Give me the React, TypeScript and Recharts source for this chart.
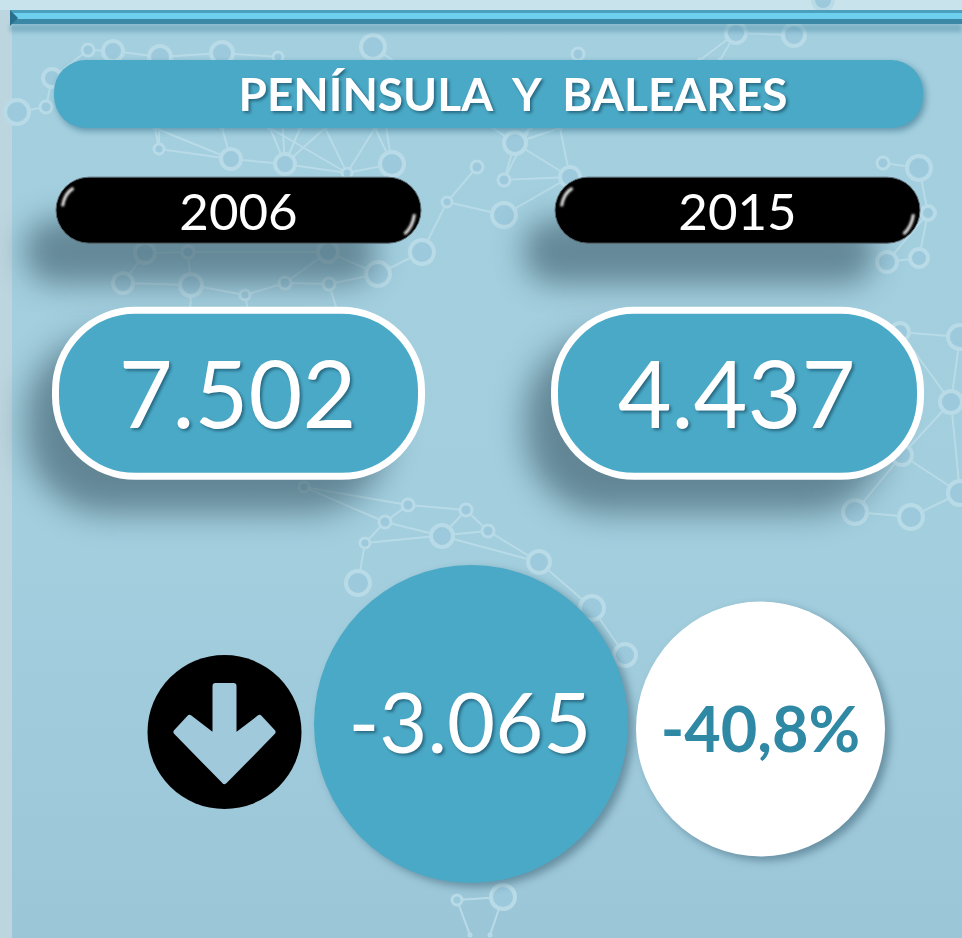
import { ScatterChart, Scatter, XAxis, YAxis } from 'recharts'

const title = 'PENÍNSULA  Y  BALEARES'
const years = ['2006', '2015']
const totals = [7502, 4437]
const change = -3065
const changePct = -40.8

const rows = ['title', 'year', 'total', 'change']
const changeSlots = ['arrow', 'abs', 'pct']

// decorative network behind the figures: [x, y, radius]
const nodes = [
  [88, 50, 6], [113, 51, 10], [160, 57, 11], [222, 53, 11], [278, 57, 5], [373, 47, 12], [52, 78, 9], [17, 112, 12], [46, 107, 6],
  [159, 149, 5], [231, 159, 10], [285, 164, 10], [392, 164, 12], [347, 173, 5], [477, 167, 6], [447, 202, 5], [422, 252, 12],
  [378, 274, 12], [328, 252, 10], [329, 284, 6], [285, 283, 6], [188, 252, 6], [145, 253, 10], [123, 283, 10], [191, 285, 11], [245, 295, 5],
  [515, 143, 11], [504, 180, 6], [570, 177, 10], [504, 215, 12], [578, 54, 6], [736, 33, 10], [794, 35, 11], [883, 163, 6], [919, 168, 12],
  [928, 213, 7], [887, 262, 10], [919, 258, 9], [823, 0, 10], [304, 487, 5], [385, 522, 6], [408, 505, 6], [466, 510, 6], [442, 536, 11],
  [365, 543, 5], [358, 583, 12], [488, 531, 6], [539, 562, 11], [855, 512, 12], [911, 517, 12], [902, 455, 10], [951, 402, 11], [960, 337, 12],
  [900, 332, 9], [960, 493, 12], [592, 608, 12], [625, 655, 11], [503, 897, 12], [457, 900, 5],
  [155, 128, 1], [222, 128, 1], [270, 128, 1], [325, 128, 1], [375, 128, 1], [300, 128, 1], [560, 128, 1], [530, 128, 1],
  [190, 320, 1], [250, 320, 1], [340, 320, 1], [470, 935, 1], [490, 935, 1], [370, 60, 1], [720, 60, 1], [700, 60, 1],
]
const edges = [
  [0, 1], [1, 2], [2, 3], [3, 4], [5, 26], [6, 0], [6, 8], [7, 8], [9, 10], [10, 11], [11, 13], [13, 12], [9, 2], [11, 4], [12, 5],
  [14, 15], [15, 16], [16, 17], [17, 18], [18, 21], [21, 22], [22, 23], [23, 24], [24, 25], [21, 24], [19, 20], [20, 18], [19, 17], [20, 25],
  [26, 27], [27, 28], [26, 28], [28, 29], [29, 15], [31, 32], [33, 34], [34, 35], [35, 36], [35, 37], [36, 37],
  [39, 40], [40, 41], [41, 42], [42, 43], [40, 43], [40, 44], [44, 45], [42, 46], [46, 47], [47, 55], [55, 56], [43, 47], [44, 46], [41, 39],
  [48, 49], [49, 54], [48, 50], [50, 51], [51, 52], [51, 53], [53, 52], [50, 54], [51, 54], [57, 58],
  [59, 9], [59, 10], [60, 10], [61, 11], [61, 13], [62, 11], [62, 13], [63, 12], [63, 13], [64, 11], [65, 26], [65, 28], [66, 26], [66, 27],
  [67, 24], [68, 25], [69, 19], [70, 58], [71, 57], [72, 5], [73, 31], [74, 31],
]

const es = (n: number) => {
  const s = String(Math.abs(n)).replace(/\B(?=(\d{3})+$)/g, '.')
  return (n < 0 ? '-' : '') + s
}

const titleData = [{ key: title, row: 'title' }]
const yearData = years.map(y => ({ key: y, row: 'year' }))
const totalData = years.map((y, i) => ({ key: y, row: 'total', label: es(totals[i]) }))
const changeData = [
  { key: 'arrow', row: 'change' },
  { key: 'abs', row: 'change', label: es(change) },
  { key: 'pct', row: 'change', label: `${String(changePct).replace('.', ',')}%` },
]

const FONT = 'Lato, sans-serif'
const TEAL = '#4aa9c6'
const textShadow = 'drop-shadow(2px 2px 1.5px rgba(20,70,95,.65))'

const TitleShape = ({ cx, cy }: any) => (
  <g>
    <rect x={cx - 432} y={cy - 31} width={869} height={68} rx={31} fill="#2e6a84" opacity={0.55} style={{ filter: 'blur(3px)' }} />
    <rect x={cx - 434.5} y={cy - 34} width={869} height={68} rx={32} fill={TEAL} />
    <text x={cx + 24.5} y={cy + 17} textAnchor="middle" fontFamily={FONT} fontWeight={700} fontSize={46} fill="#fff"
      style={{ whiteSpace: 'pre', filter: textShadow }}>{title}</text>
  </g>
)

const YearShape = ({ cx, cy, payload }: any) => {
  const y = cy - 95.5
  return (
    <g>
      <rect x={cx - 214} y={y + 8} width={352} height={66} rx={30} fill="#3b5a68" opacity={0.6} style={{ filter: 'blur(15px)' }} />
      <rect x={cx - 182.5} y={y - 33} width={365} height={66} rx={33} fill="#000" stroke="#5b6b73" strokeWidth={1} />
      <path d={`M${cx - 176} ${y - 4} Q${cx - 174} ${y - 17} ${cx - 165} ${y - 22}`} stroke="#e8e8e8" strokeWidth={3} fill="none" style={{ filter: 'blur(1.1px)' }} />
      <path d={`M${cx + 176} ${y + 4} Q${cx + 174} ${y + 17} ${cx + 166} ${y + 24}`} stroke="#e8e8e8" strokeWidth={3} fill="none" style={{ filter: 'blur(1.1px)' }} />
      <text x={cx} y={y + 20} textAnchor="middle" fontFamily={FONT} fontSize={51} fill="#fff">{payload.key}</text>
    </g>
  )
}

const TotalShape = ({ cx, cy, payload }: any) => {
  const y = cy - 124
  return (
    <g>
      <rect x={cx - 212} y={y - 58} width={362} height={178} rx={80} fill="#3b5a68" opacity={0.62} style={{ filter: 'blur(16px)' }} />
      <rect x={cx - 183} y={y - 83} width={366} height={166} rx={80} fill={TEAL} stroke="#fff" strokeWidth={7} />
      <text x={cx - 1} y={y + 35} textAnchor="middle" fontFamily={FONT} fontSize={93} fill="#fff" style={{ filter: textShadow }}>{payload.label}</text>
    </g>
  )
}

const ChangeShape = ({ cx, cy, payload }: any) => {
  if (payload.key === 'arrow') {
    const y = cy + 3
    return (
      <g>
        <circle cx={cx} cy={y} r={77} fill="#000" />
        <path
          d={`M${cx - 9} ${y - 46} L${cx + 9} ${y - 46} L${cx + 9} ${y + 6} L${cx + 35} ${y - 14} L${cx + 48} ${y} L${cx} ${y + 49} L${cx - 48} ${y} L${cx - 35} ${y - 14} L${cx - 9} ${y + 6} Z`}
          fill="#a0cadb" stroke="#a0cadb" strokeWidth={6} strokeLinejoin="round"
        />
      </g>
    )
  }
  if (payload.key === 'abs') {
    const x = cx - 21.5
    const y = cy - 5
    return (
      <g>
        <ellipse cx={x + 5} cy={y + 4} rx={157} ry={159} fill="#2f5568" opacity={0.5} style={{ filter: 'blur(4px)' }} />
        <ellipse cx={x} cy={y} rx={157} ry={159} fill={TEAL} />
        <text x={x - 1} y={y + 29} textAnchor="middle" fontFamily={FONT} fontSize={83} fill="#fff" style={{ filter: textShadow }}>{payload.label}</text>
      </g>
    )
  }
  return (
    <g>
      <ellipse cx={cx + 5} cy={cy + 4} rx={124.5} ry={127.5} fill="#2f5568" opacity={0.5} style={{ filter: 'blur(4px)' }} />
      <ellipse cx={cx} cy={cy} rx={124.5} ry={127.5} fill="#fff" />
      <text x={cx} y={cy + 23} textAnchor="middle" fontFamily={FONT} fontWeight={700} fontSize={63} fill="#2f88a4">{payload.label}</text>
    </g>
  )
}

function Backdrop() {
  return (
    <svg width={962} height={938} style={{ position: 'absolute', left: 0, top: 0 }}>
      <defs>
        <linearGradient id="bg" x1="0" y1="0" x2="0" y2="1">
          <stop offset="0" stopColor="#a3cfdf" />
          <stop offset="0.6" stopColor="#a2cede" />
          <stop offset="1" stopColor="#9bc6d8" />
        </linearGradient>
      </defs>
      <rect width={962} height={938} fill="url(#bg)" />
      <rect width={12} height={938} fill="#bcd5df" />
      <rect width={962} height={10} fill="#c9e3ed" />
      <g stroke="#b8dbe7" strokeWidth={2} fill="none">
        {edges.map(([a, b], i) => (
          <line key={i} x1={nodes[a][0]} y1={nodes[a][1]} x2={nodes[b][0]} y2={nodes[b][1]} />
        ))}
      </g>
      {nodes.map(([x, y, r], i) => (
        <circle key={i} cx={x} cy={y} r={r} fill="#9cc9dc" stroke="#b8dbe7" strokeWidth={r > 6 ? 4 : 3} />
      ))}
      <rect x={10} y={24} width={952} height={8} fill="#4f8ca4" opacity={0.45} style={{ filter: 'blur(2px)' }} />
      <rect x={10} y={10} width={952} height={3} fill="#4a9fbc" />
      <rect x={10} y={13} width={952} height={6} fill="#6cd0ee" />
      <rect x={10} y={19} width={952} height={5} fill="#3a88a6" />
      <polygon points="10,10 18,18 10,26" fill="#2a6f8c" />
    </svg>
  )
}

export default function App() {
  return (
    <div style={{ position: 'absolute', left: 0, top: 0, width: 962, height: 938, overflow: 'hidden' }}>
      <Backdrop />
      <div style={{ position: 'absolute', left: 0, top: 0 }}>
        <ScatterChart width={962} height={938} margin={{ top: 0, right: 0, bottom: 0, left: 0 }}>
          <XAxis hide xAxisId="title" type="category" dataKey="key" scale="point" allowDuplicatedCategory={false} padding={{ left: 100, right: 85 }} />
          <XAxis hide xAxisId="years" type="category" dataKey="key" scale="point" allowDuplicatedCategory={false} padding={{ left: 238.5, right: 224.5 }} />
          <XAxis hide xAxisId="change" type="category" dataKey="key" scale="point" allowDuplicatedCategory={false} domain={changeSlots} padding={{ left: 224.5, right: 201.5 }} />
          <YAxis hide reversed type="category" dataKey="row" scale="point" allowDuplicatedCategory={false} domain={rows} padding={{ top: 94, bottom: 209 }} />
          <Scatter xAxisId="title" data={titleData} shape={TitleShape} isAnimationActive={false} />
          <Scatter xAxisId="years" data={yearData} shape={YearShape} isAnimationActive={false} />
          <Scatter xAxisId="years" data={totalData} shape={TotalShape} isAnimationActive={false} />
          <Scatter xAxisId="change" data={changeData} shape={ChangeShape} isAnimationActive={false} />
        </ScatterChart>
      </div>
    </div>
  )
}
